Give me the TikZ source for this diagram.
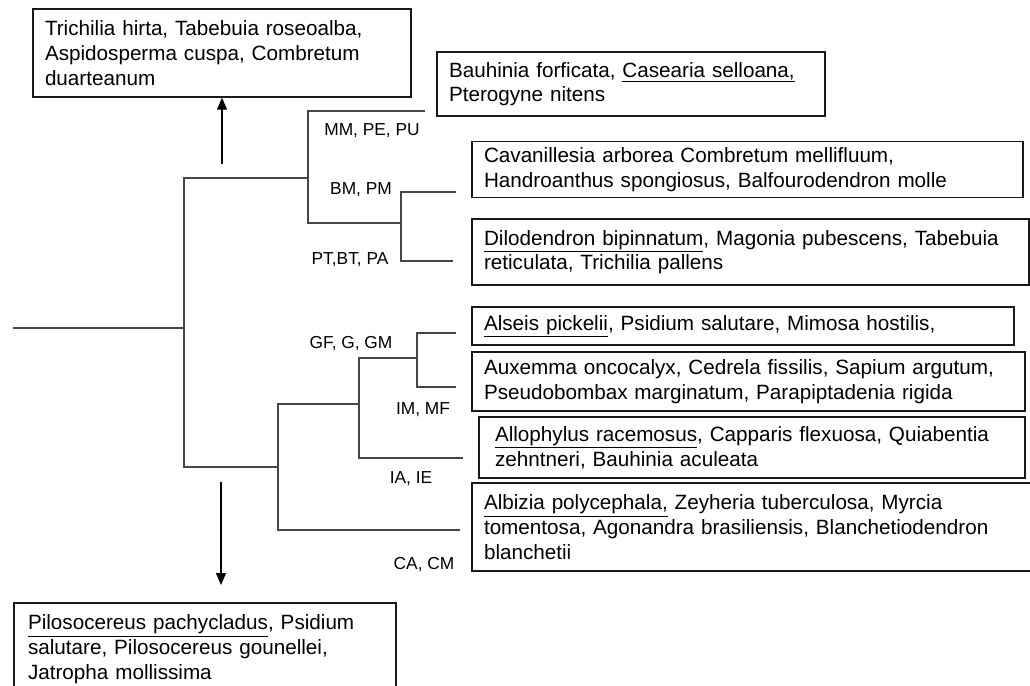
\documentclass[tikz,border=0pt]{standalone}
\usepackage{fontspec}
\setmainfont{Liberation Sans}
\usetikzlibrary{arrows.meta}
\newcommand\mkul[1]{\underline{#1}}
\tikzset{
  box/.style={draw=black!90, line width=1.1pt, inner xsep=9pt, inner ysep=0pt, align=left,
    font=\fontsize{15.5}{18.5}\selectfont},
  tree/.style={draw=black!72, line width=1.5pt},
  lab/.style={inner sep=0pt, font=\fontsize{13}{15}\selectfont},
  arr/.style={draw=black, line width=1.1pt, -{Triangle[width=7.5pt,length=9pt]}}
}
\begin{document}
\begin{tikzpicture}[x=0.75pt,y=-0.75pt]
\fill[white] (0,0) rectangle (1030,685);
\useasboundingbox (0,0) rectangle (1030,685);
\clip (0,0) rectangle (1030,685);

% boxes
\node[box, minimum width=283.5pt, minimum height=66pt, text width=265.5pt] (b1) at (222,53)
  {Trichilia hirta, Tabebuia roseoalba,\\Aspidosperma cuspa, Combretum\\duarteanum};
\node[box, minimum width=291pt, minimum height=48pt, text width=273pt] (b2) at (631,84)
  {Bauhinia forficata, \mkul{Casearia selloana,}\\Pterogyne nitens};
\node[box, minimum width=413.25pt, minimum height=42pt, text width=395.25pt] (b3) at (747.5,169.5)
  {Cavanillesia arborea Combretum mellifluum,\\Handroanthus spongiosus, Balfourodendron molle};
\node[box, minimum width=417.75pt, minimum height=49.5pt, text width=399.75pt] (b4) at (750.5,252)
  {\mkul{Dilodendron bipinnatum}, Magonia pubescens, Tabebuia\\reticulata, Trichilia pallens};
\node[box, minimum width=406.5pt, minimum height=28.5pt, text width=388.5pt] (b5) at (743,326)
  {\mkul{Alseis pickelii}, Psidium salutare, Mimosa hostilis,};
\node[box, minimum width=414.75pt, minimum height=44.25pt, text width=396.75pt] (b6) at (748.5,381.5)
  {Auxemma oncocalyx, Cedrela fissilis, Sapium argutum,\\Pseudobombax marginatum, Parapiptadenia rigida};
\node[box, inner xsep=12pt, minimum width=409.5pt, minimum height=45.75pt, text width=385.5pt] (b7) at (752,447.5)
  {\mkul{Allophylus racemosus}, Capparis flexuosa, Quiabentia\\zehntneri, Bauhinia aculeata};
\node[box, minimum width=429.75pt, minimum height=66pt, text width=411.75pt] (b8) at (758.5,527)
  {\mkul{Albizia polycephala,} Zeyheria tuberculosa, Myrcia\\tomentosa, Agonandra brasiliensis, Blanchetiodendron\\blanchetii};
\node[box, inner xsep=10.5pt, minimum width=286.5pt, minimum height=69pt, text width=265.5pt] (b9) at (205,649)
  {\mkul{Pilosocereus pachycladus}, Psidium\\salutare, Pilosocereus gounellei,\\Jatropha mollissima};

% tree coordinates
\coordinate (r) at (13,328);
\coordinate (a) at (184,328);
\coordinate (b) at (308,178);
\coordinate (c) at (401,223);
\coordinate (d) at (278,467);
\coordinate (e) at (359,404);
\coordinate (f) at (417,358);
\coordinate (l2) at (425,111);
\coordinate (l3) at (456,192);
\coordinate (l4) at (453,261);
\coordinate (l5) at (456,333);
\coordinate (l6) at (456,387);
\coordinate (l7) at (463,458);
\coordinate (l8) at (460,530);

\draw[tree] (r) -- (a);
\draw[tree] (a) |- (b);
\draw[tree] (a) |- (d);
\draw[tree] (b) |- (l2);
\draw[tree] (b) |- (c);
\draw[tree] (c) |- (l3);
\draw[tree] (c) |- (l4);
\draw[tree] (d) |- (e);
\draw[tree] (d) |- (l8);
\draw[tree] (e) |- (f);
\draw[tree] (e) |- (l7);
\draw[tree] (f) |- (l5);
\draw[tree] (f) |- (l6);

% labels
\node[lab] (t1) at (372,131) {MM, PE, PU};
\node[lab] (t2) at (361,190) {BM, PM};
\node[lab] (t3) at (350,260) {PT,BT, PA};
\node[lab] (t4) at (351,344) {GF, G, GM};
\node[lab] (t5) at (423,410) {IM, MF};
\node[lab] (t6) at (411,479) {IA, IE};
\node[lab] (t7) at (424,565) {CA, CM};

% arrows
\coordinate (u0) at (222,164);
\coordinate (d0) at (221,482);
\coordinate (d1) at (221,585);
\draw[arr] (u0) -- (b1.south);
\draw[arr] (d0) -- (d1);
\end{tikzpicture}
\end{document}
